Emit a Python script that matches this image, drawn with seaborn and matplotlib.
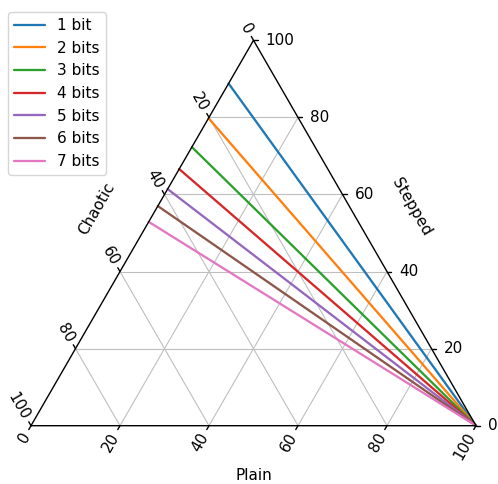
import numpy as np
import pandas as pd
import matplotlib
matplotlib.use("Agg")
import matplotlib.pyplot as plt
import seaborn as sns

# ---- data ----
series_labels = ["1 bit", "2 bits", "3 bits", "4 bits", "5 bits", "6 bits", "7 bits"]
# each series: straight line from (Plain=100, Stepped=0, Chaotic=0) to (Plain=0, Stepped=100-c, Chaotic=c)
start_plain = [100, 100, 100, 100, 100, 100, 100]
start_stepped = [0, 0, 0, 0, 0, 0, 0]
end_chaotic = [11.2, 20.2, 27.7, 33.4, 38.6, 43.0, 47.1]
tick_values = [0, 20, 40, 60, 80, 100]

SCALE = 100.0
SQ = np.sqrt(3) / 2
FS = 11


def proj(plain, stepped):
    return plain + stepped / 2.0, stepped * SQ


sns.set_style("white")
plt.rcParams["font.family"] = ["DejaVu Sans"]
plt.rcParams["text.color"] = "black"
plt.rcParams["legend.labelcolor"] = "black"

fig = plt.figure(figsize=(4.98, 4.84), dpi=100)
ax = fig.add_axes([0, 0, 1, 1])
px = 4.45  # pixels per data unit
ax.set_xlim(-31 / px, (498 - 31) / px)
ax.set_ylim((425.7 - 484) / px, 425.7 / px)
ax.axis("off")

# gridlines
for v in tick_values[1:-1]:
    x0, y0 = proj(v, 0); x1, y1 = proj(v, SCALE - v)
    ax.plot([x0, x1], [y0, y1], color="#bfbfbf", lw=0.8, zorder=1)
    x0, y0 = proj(0, v); x1, y1 = proj(SCALE - v, v)
    ax.plot([x0, x1], [y0, y1], color="#bfbfbf", lw=0.8, zorder=1)
    x0, y0 = proj(SCALE - v, 0); x1, y1 = proj(0, SCALE - v)
    ax.plot([x0, x1], [y0, y1], color="#bfbfbf", lw=0.8, zorder=1)

# boundary
bx = [proj(0, 0), proj(SCALE, 0), proj(0, SCALE), proj(0, 0)]
ax.plot([p[0] for p in bx], [p[1] for p in bx], color="black", lw=1.0, zorder=3)

# data lines
rows = []
for lab, p0, s0, c in zip(series_labels, start_plain, start_stepped, end_chaotic):
    x0, y0 = proj(p0, s0)
    x1, y1 = proj(0, SCALE - c)
    rows.append({"label": lab, "x": x0, "y": y0})
    rows.append({"label": lab, "x": x1, "y": y1})
df = pd.DataFrame(rows)
sns.lineplot(data=df, x="x", y="y", hue="label", sort=False, estimator=None,
             units="label", palette="tab10", lw=1.65, ax=ax, zorder=2)

leg = ax.legend(loc="upper left", bbox_to_anchor=(8 / 498, 1 - 12 / 484),
                borderaxespad=0, fontsize=FS, frameon=True)
for t in leg.get_texts():
    t.set_color("black")

off = 1.0  # tick length in data units
u = 1 / px  # one pixel in data units
for v in tick_values:
    # bottom (Plain)
    x, y = proj(v, 0)
    ax.plot([x, x - off / 2], [y, y - off * SQ], color="black", lw=1.0)
    ax.text(x - 4.5 * u, y - 8 * u, f"{v}", rotation=60, rotation_mode="anchor",
            ha="right", va="center", fontsize=FS, color="black")
    # right (Stepped)
    x, y = proj(SCALE - v, v)
    ax.plot([x, x + off], [y, y], color="black", lw=1.0)
    ax.text(x + 12 * u, y, f"{v}", ha="left", va="center", fontsize=FS, color="black")
    # left (Chaotic)
    x, y = proj(0, SCALE - v)
    ax.plot([x, x - off / 2], [y, y + off * SQ], color="black", lw=1.0)
    ax.text(x - 5 * u, y + 7 * u, f"{v}", rotation=-60, rotation_mode="anchor",
            ha="right", va="center", fontsize=FS, color="black")


def pix(xp, yp):
    return (xp - 31) / px, (425.7 - yp) / px


ax.text(*pix(254, 476), "Plain", ha="center", va="center", fontsize=FS, color="black")
ax.text(*pix(97, 209), "Chaotic", ha="center", va="center", rotation=60, fontsize=FS, color="black")
ax.text(*pix(411, 207), "Stepped", ha="center", va="center", rotation=-60, fontsize=FS, color="black")

fig.savefig("out.png", dpi=100)
